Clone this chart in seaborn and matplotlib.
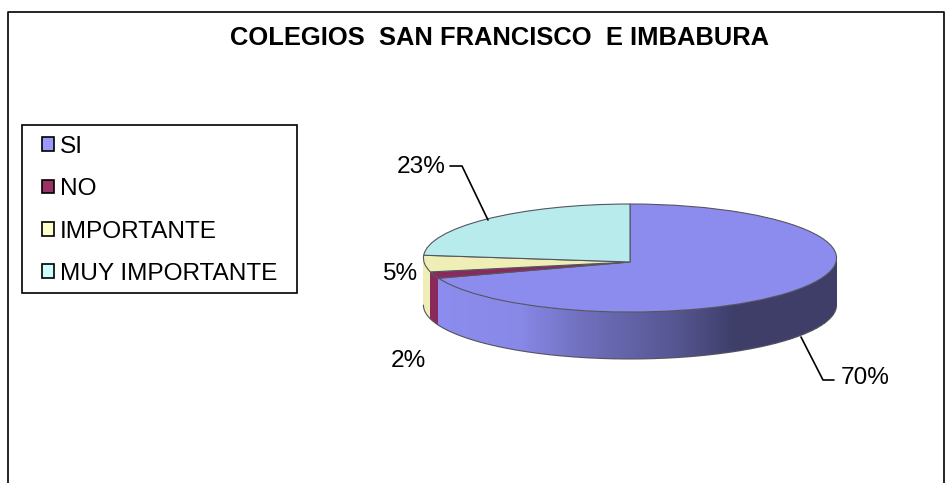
import numpy as np
import seaborn as sns
import matplotlib
matplotlib.use("Agg")
import matplotlib.pyplot as plt
from matplotlib.patches import Patch, Rectangle
from matplotlib.transforms import Transform

titulo = "COLEGIOS  SAN FRANCISCO  E IMBABURA"
categorias = ["SI", "NO", "IMPORTANTE", "MUY IMPORTANTE"]
valores = [70, 2, 5, 23]
etiquetas = ["70%", "2%", "5%", "23%"]
colores_leyenda = ["#9999FF", "#993366", "#FFFFCC", "#CCFFFF"]
colores_cara = ["#8C8CEE", "#8A2A5C", "#EEEEB6", "#B8ECEC"]

sns.set_theme(style="white")
plt.rcParams["font.family"] = ["Liberation Sans", "DejaVu Sans"]

CX, CY = 630, 262
RX, RY = 206, 53.7
K = 0.074
PROF = 47


class Perspectiva(Transform):
    # lleva el circulo unidad del pie a la elipse en pixeles
    input_dims = 2
    output_dims = 2

    def transform_non_affine(self, xy):
        xy = np.asarray(xy)
        w = 1 - K * xy[:, 1]
        return np.column_stack([CX + RX * xy[:, 0] / w, CY - RY * xy[:, 1] / w])


fig = plt.figure(figsize=(9.52, 4.83), dpi=100)
ax = fig.add_axes([0, 0, 1, 1])

wedges, _ = ax.pie(valores, colors=sns.color_palette(colores_cara), startangle=90,
                   counterclock=False,
                   wedgeprops=dict(edgecolor="#55555f", linewidth=0.8, zorder=3))
persp = Perspectiva()
for w in wedges:
    w.set_transform(persp + ax.transData)

# pared lateral, se oscurece hacia la derecha
for w, col in zip(wedges, colores_cara):
    base = np.array(matplotlib.colors.to_rgb(col))
    ang = np.radians(np.arange(w.theta1, w.theta2 + 0.25, 0.5))
    ang = ang[np.sin(ang) <= K]
    if len(ang) < 2:
        continue
    pts = persp.transform_non_affine(np.column_stack([np.cos(ang), np.sin(ang)]))
    xm = (pts[:-1, 0] + pts[1:, 0]) / 2
    f = np.interp(xm, [440, 520, 580, 680, 735], [1, 0.97, 0.8, 0.6, 0.44])
    rgb = (base[None, :] * f[:, None])[None, :, :]
    X = np.vstack([pts[:, 0], pts[:, 0]])
    Y = np.vstack([pts[:, 1], pts[:, 1] + PROF])
    ax.pcolormesh(X, Y, rgb, shading="flat", antialiased=False, linewidth=0, zorder=2)
    ax.plot(pts[:, 0], pts[:, 1] + PROF, color="#55555f", lw=0.8, zorder=2.5)

ax.set_aspect("auto")
ax.set_xlim(0, 952)
ax.set_ylim(483, 0)

# lineas guia
ax.plot([801, 823, 834], [337, 380, 380], color="black", lw=1.2, zorder=4)
ax.plot([450, 462, 488], [166, 166, 220], color="black", lw=1.2, zorder=4)

pos_etiquetas = [(865, 378), (408, 361), (400, 274), (421, 167)]
for txt, (x, y) in zip(etiquetas, pos_etiquetas):
    ax.text(x, y, txt, fontsize=17.6, color="black", ha="center", va="center", zorder=5)

ax.text(500, 38, titulo, fontsize=18.4, fontweight="bold", color="black",
        ha="center", va="center")

# marco del grafico
ax.plot([8, 8, 944, 944], [483, 12, 12, 483], color="black", lw=1.2, clip_on=False)

# caja y leyenda
ax.add_patch(Rectangle((22, 125), 275, 168, facecolor="white", edgecolor="black", lw=1.2))
handles = [Patch(facecolor=c, edgecolor="black", linewidth=1.2) for c in colores_leyenda]
ax.legend(handles, categorias, loc="upper left", bbox_to_anchor=(42, 136),
          bbox_transform=ax.transData, borderaxespad=0, borderpad=0, fontsize=17.6,
          frameon=False, handlelength=0.49, handleheight=0.49, handletextpad=0.25,
          labelspacing=0.83, labelcolor="black")

fig.savefig("out.png", dpi=100)
